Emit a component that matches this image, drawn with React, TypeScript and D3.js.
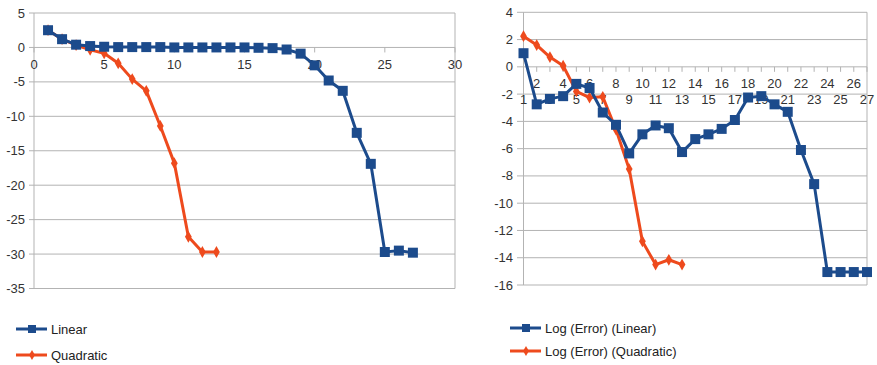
import * as d3 from "d3";
import { useEffect, useRef } from "react";

// left chart: raw values (scatter, x = 1..n)
const linear = [
  2.5, 1.2, 0.4, 0.2, 0.1, 0.05, 0.05, 0.05, 0.05, 0, 0, 0, 0, 0, 0, -0.05, -0.1,
  -0.3, -0.9, -2.6, -4.8, -6.3, -12.4, -16.9, -29.7, -29.5, -29.8,
];
const quadratic = [2.5, 1.2, 0.35, -0.35, -0.85, -2.3, -4.6, -6.3, -11.4, -16.8, -27.5, -29.7, -29.7];

// right chart: log of error (category axis 1..27)
const logLinear = [
  1.0, -2.75, -2.35, -2.15, -1.25, -1.55, -3.35, -4.25, -6.35, -4.95, -4.3, -4.5,
  -6.25, -5.3, -4.95, -4.55, -3.9, -2.25, -2.15, -2.75, -3.3, -6.1, -8.6, -15.05,
  -15.05, -15.05, -15.05,
];
const logQuadratic = [2.25, 1.6, 0.72, 0.08, -1.8, -2.25, -2.2, -4.6, -7.5, -12.8, -14.5, -14.15, -14.5];

const leftXTicks = [0, 5, 10, 15, 20, 25, 30];
const leftYTicks = [5, 0, -5, -10, -15, -20, -25, -30, -35];
const rightYTicks = [4, 2, 0, -2, -4, -6, -8, -10, -12, -14, -16];
const categories = d3.range(1, 28);

const leftNames = ["Linear", "Quadratic"];
const rightNames = ["Log (Error) (Linear)", "Log (Error) (Quadratic)"];

const BLUE = "#1c4b8c";
const ORANGE = "#ee4a1d";
const GRID = "#b3b3b3";
const FONT = "'Liberation Sans', Arial, sans-serif";

export default function App() {
  const svgRef = useRef<SVGSVGElement | null>(null);

  useEffect(() => {
    if (!svgRef.current) return;
    const svg = d3.select(svgRef.current);
    svg.selectAll("*").remove();
    svg.attr("font-family", FONT);

    const square = d3.symbol().type(d3.symbolSquare).size(100);
    const diamond = d3.symbol().type(d3.symbolDiamond).size(40);

    const drawSeries = (
      g: d3.Selection<SVGGElement, unknown, null, undefined>,
      vals: number[],
      x: (i: number) => number,
      y: d3.ScaleLinear<number, number>,
      color: string,
      shape: string | null,
    ) => {
      const line = d3
        .line<number>()
        .x((_, i) => x(i))
        .y((d) => y(d));
      g.append("path")
        .attr("d", line(vals))
        .attr("fill", "none")
        .attr("stroke", color)
        .attr("stroke-width", 3)
        .attr("stroke-linejoin", "round");
      g.selectAll(null)
        .data(vals)
        .enter()
        .append("path")
        .attr("d", shape)
        .attr("transform", (d, i) => `translate(${x(i)},${y(d)})`)
        .attr("fill", color);
    };

    const legend = (
      x0: number,
      ys: number[],
      names: string[],
    ) => {
      names.forEach((name, i) => {
        const color = i === 0 ? BLUE : ORANGE;
        const lg = svg.append("g").attr("transform", `translate(${x0},${ys[i]})`);
        lg.append("line")
          .attr("x1", 0)
          .attr("x2", 31)
          .attr("stroke", color)
          .attr("stroke-width", 3);
        lg.append("path")
          .attr("d", i === 0 ? d3.symbol().type(d3.symbolSquare).size(64)() : d3.symbol().type(d3.symbolDiamond).size(30)())
          .attr("transform", "translate(16,0)")
          .attr("fill", color);
        lg.append("text")
          .attr("x", 35)
          .attr("dy", "0.35em")
          .attr("font-size", 13)
          .attr("fill", "#222")
          .text(name);
      });
    };

    // ---------- left chart ----------
    const lx = d3.scaleLinear().domain([0, 30]).range([34, 455]);
    const ly = d3.scaleLinear().domain([5, -35]).range([13, 288.5]);
    const left = svg.append("g");

    left.selectAll(null)
      .data(leftYTicks)
      .enter()
      .append("line")
      .attr("x1", 29)
      .attr("x2", 455)
      .attr("y1", (d) => ly(d))
      .attr("y2", (d) => ly(d))
      .attr("stroke", GRID);
    left.append("line")
      .attr("x1", lx(0)).attr("x2", lx(0))
      .attr("y1", ly(5)).attr("y2", ly(-35))
      .attr("stroke", GRID);
    left.append("line")
      .attr("x1", lx(30)).attr("x2", lx(30))
      .attr("y1", ly(5)).attr("y2", ly(-35))
      .attr("stroke", GRID);
    left.selectAll(null)
      .data(leftXTicks)
      .enter()
      .append("line")
      .attr("x1", (d) => lx(d))
      .attr("x2", (d) => lx(d))
      .attr("y1", ly(0))
      .attr("y2", ly(0) + 5)
      .attr("stroke", GRID);
    left.selectAll(null)
      .data(leftYTicks)
      .enter()
      .append("text")
      .attr("x", 25)
      .attr("y", (d) => ly(d))
      .attr("dy", "0.35em")
      .attr("text-anchor", "end")
      .attr("font-size", 13)
      .attr("fill", "#333")
      .text((d) => d);
    left.selectAll(null)
      .data(leftXTicks)
      .enter()
      .append("text")
      .attr("x", (d) => lx(d))
      .attr("y", ly(0) + 17)
      .attr("dy", "0.35em")
      .attr("text-anchor", "middle")
      .attr("font-size", 13)
      .attr("fill", "#333")
      .text((d) => d);

    drawSeries(left, quadratic, (i) => lx(i + 1), ly, ORANGE, diamond());
    drawSeries(left, linear, (i) => lx(i + 1), ly, BLUE, square());

    // ---------- right chart ----------
    const rx = d3.scaleLinear().domain([1, 27]).range([523.5, 867]);
    const ry = d3.scaleLinear().domain([4, -16]).range([12.3, 285]);
    const right = svg.append("g");

    right.selectAll(null)
      .data(rightYTicks)
      .enter()
      .append("line")
      .attr("x1", 517)
      .attr("x2", 867)
      .attr("y1", (d) => ry(d))
      .attr("y2", (d) => ry(d))
      .attr("stroke", GRID);
    right.append("line")
      .attr("x1", rx(1)).attr("x2", rx(1))
      .attr("y1", ry(4)).attr("y2", ry(-16))
      .attr("stroke", GRID);
    right.append("line")
      .attr("x1", rx(27)).attr("x2", rx(27))
      .attr("y1", ry(4)).attr("y2", ry(-16))
      .attr("stroke", GRID);
    right.selectAll(null)
      .data(categories)
      .enter()
      .append("line")
      .attr("x1", (d) => rx(d))
      .attr("x2", (d) => rx(d))
      .attr("y1", ry(0))
      .attr("y2", ry(0) + 5)
      .attr("stroke", GRID);
    right.selectAll(null)
      .data(rightYTicks)
      .enter()
      .append("text")
      .attr("x", 513)
      .attr("y", (d) => ry(d))
      .attr("dy", "0.35em")
      .attr("text-anchor", "end")
      .attr("font-size", 13)
      .attr("fill", "#333")
      .text((d) => d);
    right.selectAll(null)
      .data(categories)
      .enter()
      .append("text")
      .attr("x", (d) => rx(d))
      .attr("y", (d) => (d % 2 === 0 ? 83 : 99.5))
      .attr("dy", "0.35em")
      .attr("text-anchor", "middle")
      .attr("font-size", 13)
      .attr("fill", "#333")
      .text((d) => d);

    drawSeries(right, logQuadratic, (i) => rx(i + 1), ry, ORANGE, diamond());
    drawSeries(right, logLinear, (i) => rx(i + 1), ry, BLUE, square());

    legend(16, [329, 355], leftNames);
    legend(510, [328, 351], rightNames);
  }, []);

  return (
    <div style={{ position: "absolute", left: 0, top: 0 }}>
      <svg ref={svgRef} width={877} height={365} style={{ display: "block", background: "#fff" }} />
    </div>
  );
}
